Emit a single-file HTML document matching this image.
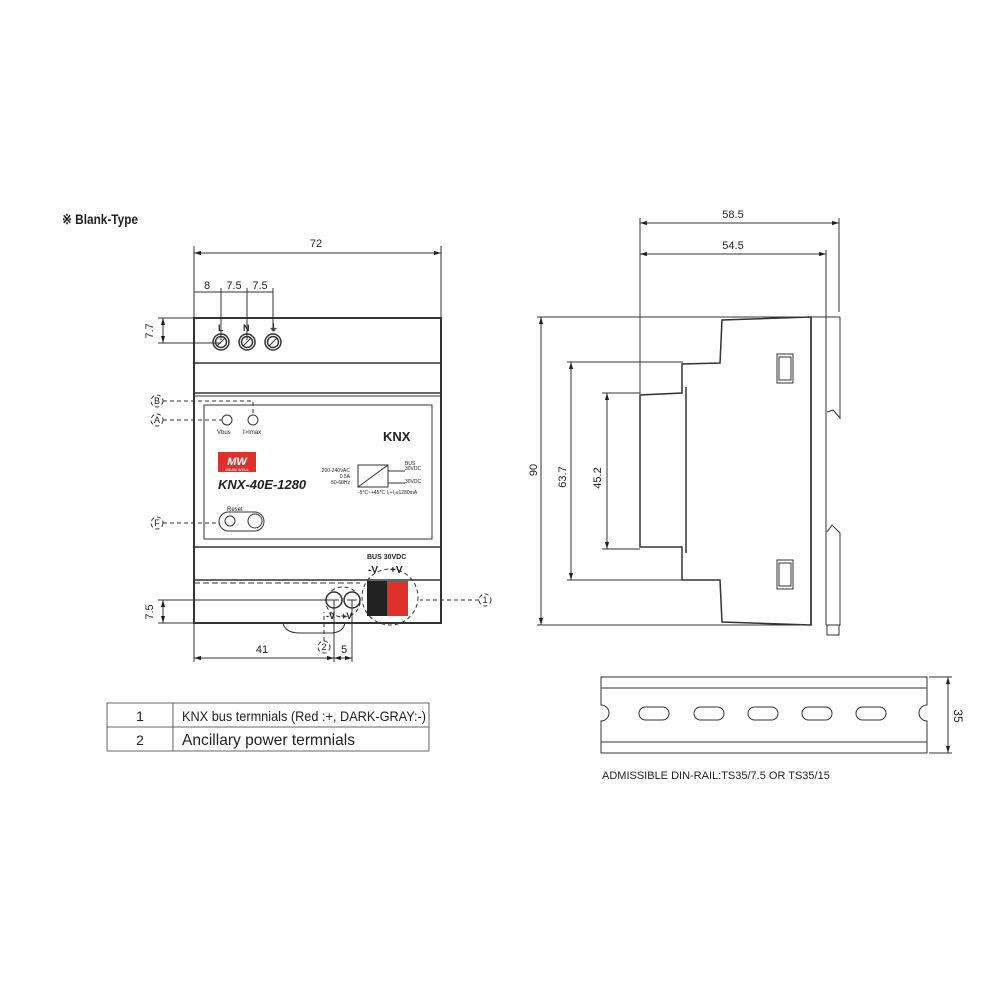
<!DOCTYPE html>
<html><head><meta charset="utf-8"><style>
body{margin:0;background:#fff}
svg{display:block}
text{font-family:"Liberation Sans",Arial,sans-serif;fill:#222}
</style></head><body>
<svg width="1000" height="1000" viewBox="0 0 1000 1000" xmlns="http://www.w3.org/2000/svg">
<defs>
<marker id="a" viewBox="0 0 10 10" refX="10" refY="5" markerWidth="7" markerHeight="7" orient="auto-start-reverse"><path d="M0,2 L10,5 L0,8z" fill="#222"/></marker>
</defs>
<text x="62" y="224" font-size="14" font-weight="bold" textLength="76" lengthAdjust="spacingAndGlyphs">※ Blank-Type</text>

<!-- FRONT VIEW -->
<g stroke="#333" fill="none" stroke-width="1">
<line x1="194" y1="253" x2="441" y2="253" marker-start="url(#a)" marker-end="url(#a)"/>
<line x1="194" y1="246" x2="194" y2="318"/>
<line x1="441" y1="246" x2="441" y2="318"/>
<line x1="194" y1="292" x2="273" y2="292"/>
<line x1="221" y1="288" x2="221" y2="340"/>
<line x1="247" y1="288" x2="247" y2="340"/>
<line x1="273" y1="288" x2="273" y2="330"/>
<line x1="158" y1="318" x2="194" y2="318"/>
<line x1="158" y1="343" x2="221" y2="343"/>
<line x1="163" y1="318" x2="163" y2="343" marker-start="url(#a)" marker-end="url(#a)"/>
<rect x="194" y="318" width="247" height="305" stroke-width="2"/>
<line x1="194" y1="363" x2="441" y2="363" stroke-width="1.5"/>
<line x1="194" y1="393" x2="441" y2="393" stroke-width="1.5"/>
<line x1="194" y1="396" x2="441" y2="396"/>
<rect x="204" y="405" width="228" height="134"/>
<line x1="194" y1="547" x2="441" y2="547" stroke-width="1.5"/>
<line x1="194" y1="580" x2="441" y2="580" stroke-width="1.5"/>
<line x1="194" y1="583" x2="360" y2="583" stroke-dasharray="6 3"/>
<path d="M283 623 Q285 633 300 633 L330 633 Q343 633 345 623"/>
<g stroke-width="1.5">
<circle cx="221" cy="342" r="8"/><circle cx="247" cy="342" r="8"/><circle cx="273" cy="342" r="8"/>
<circle cx="221" cy="342" r="5.5"/><circle cx="247" cy="342" r="5.5"/><circle cx="273" cy="342" r="5.5"/>
<circle cx="334" cy="600" r="8"/><circle cx="352" cy="600" r="8"/>
</g>
<line x1="217" y1="346" x2="225" y2="338"/><line x1="243" y1="346" x2="251" y2="338"/><line x1="269" y1="346" x2="277" y2="338"/>
<line x1="329" y1="600" x2="339" y2="600"/><line x1="347" y1="600" x2="357" y2="600"/>
<circle cx="227" cy="420" r="5"/><circle cx="253" cy="420" r="5"/>
<rect x="219" y="512" width="45" height="19" rx="9.5"/>
<circle cx="230" cy="521" r="5"/><circle cx="255" cy="521" r="7"/>
<g stroke-dasharray="4 3">
<circle cx="157" cy="401" r="6"/><circle cx="157" cy="420" r="6"/><circle cx="157" cy="523" r="6"/>
<circle cx="485" cy="600" r="6"/><circle cx="324" cy="647" r="6"/>
<path d="M163 401 H253 V414"/><path d="M163 420 H222"/><path d="M163 523 H220"/>
<path d="M479 600 H420"/>
<circle cx="390" cy="597" r="28"/>
<ellipse cx="343" cy="602" rx="17" ry="15"/>
<path d="M324 641 V612"/>
</g>
<line x1="158" y1="600" x2="334" y2="600"/>
<line x1="158" y1="623" x2="194" y2="623"/>
<line x1="163" y1="600" x2="163" y2="623" marker-start="url(#a)" marker-end="url(#a)"/>
<line x1="194" y1="623" x2="194" y2="662"/>
<line x1="334" y1="600" x2="334" y2="662"/>
<line x1="352" y1="600" x2="352" y2="662"/>
<line x1="194" y1="658" x2="334" y2="658" marker-start="url(#a)" marker-end="url(#a)"/>
<line x1="334" y1="658" x2="352" y2="658" marker-start="url(#a)" marker-end="url(#a)"/>
<rect x="358" y="465" width="30" height="22"/>
<line x1="358" y1="487" x2="388" y2="465"/>
<line x1="388" y1="471" x2="405" y2="471"/><line x1="388" y1="483" x2="405" y2="483"/>
</g>
<rect x="367" y="581" width="20" height="35" fill="#222"/>
<rect x="387" y="581" width="21" height="35" fill="#e0302a"/>
<rect x="218" y="452" width="38" height="20" fill="#e0302a"/>
<text x="237" y="465" font-size="11" style="fill:#fff" text-anchor="middle" font-style="italic" font-weight="bold">MW</text>
<text x="237" y="471" font-size="4" style="fill:#fff" text-anchor="middle">MEAN WELL</text>
<text x="218" y="489" font-size="13" font-weight="bold" font-style="italic">KNX-40E-1280</text>
<text x="383" y="441" font-size="13" font-weight="bold">KNX</text>
<text x="217" y="434" font-size="6">Vbus</text>
<text x="243" y="434" font-size="6">I&gt;Imax</text>
<text x="227" y="511" font-size="6">Reset</text>
<text x="350" y="472" font-size="5" text-anchor="end">200-240VAC</text>
<text x="350" y="478" font-size="5" text-anchor="end">0.5A</text>
<text x="350" y="484" font-size="5" text-anchor="end">50-60Hz</text>
<text x="405" y="465" font-size="5">BUS</text><text x="405" y="470" font-size="5">30VDC</text>
<text x="405" y="483" font-size="5">30VDC</text>
<text x="358" y="494" font-size="5">-5°C~+45°C  I₁+I₂≤1280mA</text>
<text x="367" y="559" font-size="7" font-weight="bold">BUS 30VDC</text>
<text x="368" y="573" font-size="10" font-weight="bold">-V</text>
<text x="390" y="573" font-size="10" font-weight="bold">+V</text>
<text x="326" y="619" font-size="9" font-weight="bold">-V</text>
<text x="341" y="619" font-size="9" font-weight="bold">+V</text>
<text x="218" y="331" font-size="9" font-weight="bold">L</text>
<text x="243" y="331" font-size="9" font-weight="bold">N</text>
<text x="269" y="331" font-size="9" font-weight="bold">⏚</text>
<g font-size="11" text-anchor="middle">
<text x="316" y="247">72</text>
<text x="207" y="289">8</text><text x="234" y="289">7.5</text><text x="260" y="289">7.5</text>
<text x="262" y="653">41</text><text x="344" y="653">5</text>
<text x="157" y="404" font-size="9">B</text><text x="157" y="423" font-size="9">A</text><text x="157" y="526" font-size="9">F</text>
<text x="485" y="603" font-size="9">1</text><text x="324" y="650" font-size="9">2</text>
<text transform="translate(153,331) rotate(-90)">7.7</text>
<text transform="translate(153,612) rotate(-90)">7.5</text>
</g>

<!-- table -->
<g stroke="#666" fill="none">
<rect x="107" y="703" width="322" height="48"/>
<line x1="107" y1="727" x2="429" y2="727"/>
<line x1="173" y1="703" x2="173" y2="751"/>
</g>
<text x="140" y="721" font-size="14" text-anchor="middle">1</text>
<text x="140" y="745" font-size="14" text-anchor="middle">2</text>
<text x="182" y="721" font-size="14" textLength="244" lengthAdjust="spacingAndGlyphs">KNX bus termnials (Red :+, DARK-GRAY:-)</text>
<text x="182" y="745" font-size="16" textLength="173" lengthAdjust="spacingAndGlyphs">Ancillary power termnials</text>

<!-- SIDE VIEW -->
<g stroke="#333" fill="none" stroke-width="1">
<line x1="640" y1="223" x2="839" y2="223" marker-start="url(#a)" marker-end="url(#a)"/>
<line x1="640" y1="254" x2="826" y2="254" marker-start="url(#a)" marker-end="url(#a)"/>
<line x1="640" y1="218" x2="640" y2="394"/>
<line x1="826" y1="250" x2="826" y2="317"/>
<line x1="839" y1="218" x2="839" y2="312"/>
<line x1="537" y1="317" x2="840" y2="317"/>
<line x1="537" y1="625" x2="811" y2="625"/>
<line x1="541" y1="317" x2="541" y2="625" marker-start="url(#a)" marker-end="url(#a)"/>
<line x1="567" y1="362" x2="683" y2="362"/>
<line x1="567" y1="580" x2="683" y2="580"/>
<line x1="571" y1="362" x2="571" y2="580" marker-start="url(#a)" marker-end="url(#a)"/>
<line x1="602" y1="393" x2="640" y2="393"/>
<line x1="602" y1="549" x2="640" y2="549"/>
<line x1="607" y1="393" x2="607" y2="549" marker-start="url(#a)" marker-end="url(#a)"/>
<path d="M811 317 L722 320 L720 363 L682 364 L682 393 L640 395 L640 547 L682 547 L682 580 L720 580 L722 622 L811 625 Z" stroke-width="1.5"/>
<line x1="686" y1="387" x2="686" y2="553" stroke-width="1.5"/>
<rect x="777" y="354" width="16" height="29"/><rect x="779" y="357" width="12" height="23"/>
<rect x="777" y="560" width="16" height="29"/><rect x="779" y="563" width="12" height="23"/>
<line x1="811" y1="317" x2="811" y2="625" stroke-width="1.5"/>
<line x1="826" y1="317" x2="826" y2="625"/>
<path d="M840 317 L840 418 L833 410 L827 412"/>
<path d="M827 532 L832 525 L840 533 L840 625 L826 625"/>
<rect x="827" y="625" width="12" height="10"/>
</g>
<g font-size="11" text-anchor="middle">
<text x="733" y="218">58.5</text>
<text x="733" y="249">54.5</text>
<text transform="translate(537,470) rotate(-90)">90</text>
<text transform="translate(566,477) rotate(-90)">63.7</text>
<text transform="translate(601,478) rotate(-90)">45.2</text>
<text transform="translate(954,716) rotate(90)" font-size="12">35</text>
</g>

<!-- DIN rail -->
<g stroke="#333" fill="none" stroke-width="1">
<path d="M601 677 H927 V705 A8 8 0 0 0 927 721 V753 H601 V721 A8 8 0 0 0 601 705 Z"/>
<line x1="601" y1="688" x2="927" y2="688"/>
<line x1="601" y1="742" x2="927" y2="742"/>
<rect x="639" y="707" width="30" height="13" rx="6.5"/>
<rect x="694" y="707" width="30" height="13" rx="6.5"/>
<rect x="748" y="707" width="30" height="13" rx="6.5"/>
<rect x="802" y="707" width="30" height="13" rx="6.5"/>
<rect x="856" y="707" width="30" height="13" rx="6.5"/>
<line x1="929" y1="677" x2="952" y2="677"/>
<line x1="929" y1="753" x2="952" y2="753"/>
<line x1="948" y1="677" x2="948" y2="753" marker-start="url(#a)" marker-end="url(#a)"/>
</g>
<text x="602" y="779" font-size="11">ADMISSIBLE DIN-RAIL:TS35/7.5 OR TS35/15</text>
</svg>
</body></html>
